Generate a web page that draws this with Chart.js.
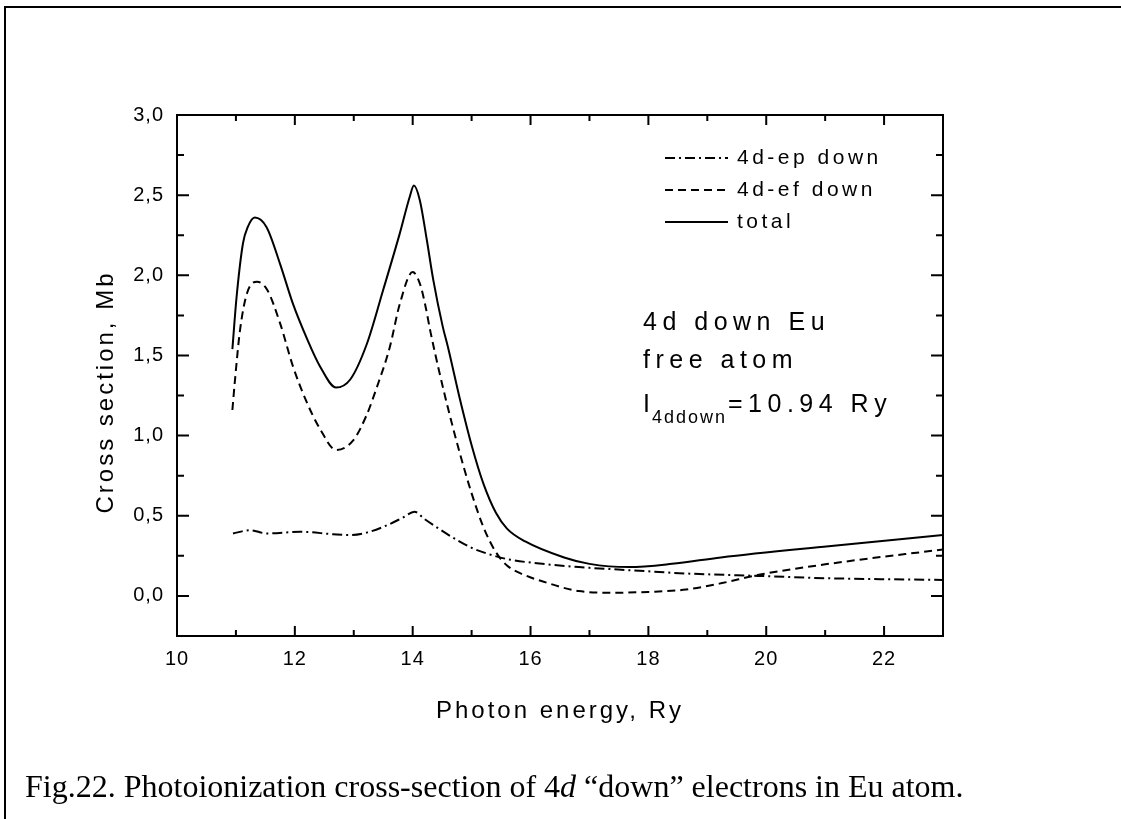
<!DOCTYPE html>
<html>
<head>
<meta charset="utf-8">
<script src="https://cdn.jsdelivr.net/npm/chart.js@4"></script>
<style>
  body { margin: 0; background: #fff; }
  #chart { display: block; }
</style>
</head>
<body>
<canvas id="chart" width="1121" height="819"></canvas>
<script>
// 4d-ep down (dash-dot)
const epEnergy = [10.95, 11.24, 11.52, 12.09, 12.65, 12.94, 13.22, 13.56, 13.84, 14.03, 14.20, 14.40, 14.70, 15.00, 15.30, 15.60, 16.20, 16.82, 17.70, 18.64, 19.85, 21.06, 23.00];
const epValue  = [0.39, 0.41, 0.39, 0.40, 0.385, 0.38, 0.395, 0.44, 0.49, 0.525, 0.48, 0.43, 0.36, 0.30, 0.26, 0.23, 0.20, 0.18, 0.16, 0.14, 0.125, 0.11, 0.10];

// 4d-ef down (dashed)
const efEnergy = [10.94, 10.98, 11.07, 11.19, 11.36, 11.53, 11.75, 11.97, 12.20, 12.43, 12.70, 12.99, 13.22, 13.39, 13.61, 13.78, 14.00, 14.12, 14.21, 14.30, 14.45, 14.60, 14.80, 15.00, 15.20, 15.40, 15.60, 15.90, 16.21, 16.82, 17.42, 18.00, 18.64, 19.25, 19.85, 21.06, 23.00];
const efValue  = [1.16, 1.33, 1.66, 1.89, 1.96, 1.91, 1.70, 1.43, 1.21, 1.04, 0.91, 0.97, 1.13, 1.30, 1.55, 1.82, 2.02, 1.95, 1.82, 1.65, 1.40, 1.17, 0.89, 0.64, 0.43, 0.28, 0.19, 0.13, 0.09, 0.03, 0.02, 0.025, 0.04, 0.08, 0.13, 0.20, 0.29];

// total (solid)
const totEnergy = [10.94, 11.01, 11.12, 11.20, 11.32, 11.52, 11.75, 11.97, 12.20, 12.43, 12.70, 12.94, 13.22, 13.50, 13.78, 13.95, 14.02, 14.12, 14.24, 14.35, 14.51, 14.60, 14.80, 15.00, 15.20, 15.41, 15.60, 15.91, 16.57, 17.00, 17.67, 18.40, 19.23, 21.06, 23.00];
const totValue  = [1.54, 1.86, 2.20, 2.30, 2.36, 2.30, 2.07, 1.82, 1.61, 1.43, 1.30, 1.35, 1.57, 1.91, 2.26, 2.49, 2.56, 2.47, 2.22, 1.97, 1.68, 1.55, 1.23, 0.94, 0.70, 0.52, 0.42, 0.34, 0.24, 0.20, 0.18, 0.20, 0.24, 0.31, 0.38];

const seriesNames = ['4d-ep down', '4d-ef down', 'total'];
const seriesDash = [[10, 4, 2, 4], [8, 5], []];
const noteLines = ['4d down Eu', 'free atom'];
const noteIon = ['I', '4ddown', '=10.94 Ry'];
const xTitle = 'Photon energy, Ry';
const yTitle = 'Cross section, Mb';
const captionParts = ['Fig.22. Photoionization cross-section of 4', 'd', ' \u201cdown\u201d electrons in Eu atom.'];

const SANS = '"Liberation Sans", Arial, Helvetica, sans-serif';
const SERIF = '"Liberation Serif", "Times New Roman", serif';

function pts(xs, ys) {
    return xs.map((x, i) => ({ x: x, y: ys[i] }));
}

function lineSet(label, data, dash) {
    return {
        label: label,
        data: data,
        showLine: true,
        borderColor: '#000',
        borderWidth: 2,
        borderDash: dash,
        pointRadius: 0,
        cubicInterpolationMode: 'monotone',
        fill: false
    };
}

// frame, inward ticks, axis titles, legend, note, caption, page border
const extras = {
    id: 'extras',
    beforeDraw(chart) {
        chart.ctx.letterSpacing = '1px';
    },
    afterDraw(chart) {
        const c = chart.ctx;
        const a = chart.chartArea;
        const xs = chart.scales.x, ys = chart.scales.y;
        c.save();
        c.strokeStyle = '#000';
        c.fillStyle = '#000';
        c.lineWidth = 2;
        c.setLineDash([]);
        c.strokeRect(a.left, a.top, a.right - a.left, a.bottom - a.top);

        // ticks pointing in, on all four sides
        c.beginPath();
        for (let v = 10; v <= 23; v++) {
            const px = xs.getPixelForValue(v);
            const len = v % 2 === 0 ? 10 : 6;
            c.moveTo(px, a.bottom); c.lineTo(px, a.bottom - len);
            c.moveTo(px, a.top); c.lineTo(px, a.top + len);
        }
        for (let k = -1; k <= 12; k++) {
            const py = ys.getPixelForValue(k * 0.25);
            const len = k % 2 === 0 ? 12 : 7;
            c.moveTo(a.left, py); c.lineTo(a.left + len, py);
            c.moveTo(a.right, py); c.lineTo(a.right - len, py);
        }
        c.stroke();

        // axis titles
        c.font = '24px ' + SANS;
        c.letterSpacing = '3px';
        c.textAlign = 'center';
        c.textBaseline = 'alphabetic';
        c.fillText(xTitle, (a.left + a.right) / 2, 718);
        c.save();
        c.translate(113, 392);
        c.rotate(-Math.PI / 2);
        c.fillText(yTitle, 0, 0);
        c.restore();
        c.textAlign = 'left';

        // legend
        c.font = '21px ' + SANS;
        c.letterSpacing = '3.5px';
        c.textBaseline = 'middle';
        seriesNames.forEach((name, i) => {
            const y = 158 + i * 32;
            c.setLineDash(seriesDash[i]);
            c.beginPath();
            c.moveTo(665, y); c.lineTo(728, y);
            c.stroke();
            c.setLineDash([]);
            c.fillText(name, 737, y);
        });

        // note
        c.textBaseline = 'alphabetic';
        c.font = '25px ' + SANS;
        c.letterSpacing = '5.5px';
        c.fillText(noteLines[0], 643, 330);
        c.fillText(noteLines[1], 643, 368);
        c.fillText(noteIon[0], 643, 412);
        c.font = '18px ' + SANS;
        c.letterSpacing = '2px';
        c.fillText(noteIon[1], 652, 423);
        c.font = '25px ' + SANS;
        c.letterSpacing = '5.5px';
        c.fillText(noteIon[2], 728, 412);

        // caption
        c.letterSpacing = '0px';
        let x = 25;
        const y = 797;
        c.font = '32px ' + SERIF;
        c.fillText(captionParts[0], x, y);
        x += c.measureText(captionParts[0]).width;
        c.font = 'italic 32px ' + SERIF;
        c.fillText(captionParts[1], x, y);
        x += c.measureText(captionParts[1]).width;
        c.font = '32px ' + SERIF;
        c.fillText(captionParts[2], x, y);

        // page border (top and left only)
        c.lineWidth = 2;
        c.beginPath();
        c.moveTo(5, 819); c.lineTo(5, 7); c.lineTo(1121, 7);
        c.stroke();
        c.restore();
    }
};

new Chart(document.getElementById('chart').getContext('2d'), {
    type: 'scatter',
    data: {
        datasets: [
            lineSet(seriesNames[0], pts(epEnergy, epValue), seriesDash[0]),
            lineSet(seriesNames[1], pts(efEnergy, efValue), seriesDash[1]),
            lineSet(seriesNames[2], pts(totEnergy, totValue), seriesDash[2])
        ]
    },
    options: {
        responsive: false,
        animation: false,
        layout: { padding: { left: 80, top: 115, right: 178, bottom: 100 } },
        plugins: { legend: { display: false }, tooltip: { enabled: false } },
        scales: {
            x: {
                type: 'linear', min: 10, max: 23,
                grid: { display: false, drawTicks: false },
                border: { display: false },
                ticks: {
                    stepSize: 1, autoSkip: false, maxRotation: 0, padding: 11,
                    color: '#000', font: { family: SANS, size: 20 },
                    callback: v => (v % 2 === 0 ? String(v) : '')
                },
                afterFit: s => { s.height = 83; }
            },
            y: {
                type: 'linear', min: -0.25, max: 3,
                grid: { display: false, drawTicks: false },
                border: { display: false },
                ticks: {
                    stepSize: 0.25, autoSkip: false, padding: 13,
                    color: '#000', font: { family: SANS, size: 20 },
                    callback: v => (Math.abs(v * 2 - Math.round(v * 2)) < 1e-9 ? v.toFixed(1).replace('.', ',') : '')
                },
                afterFit: s => { s.width = 97; }
            }
        }
    },
    plugins: [extras]
});
</script>
</body>
</html>
